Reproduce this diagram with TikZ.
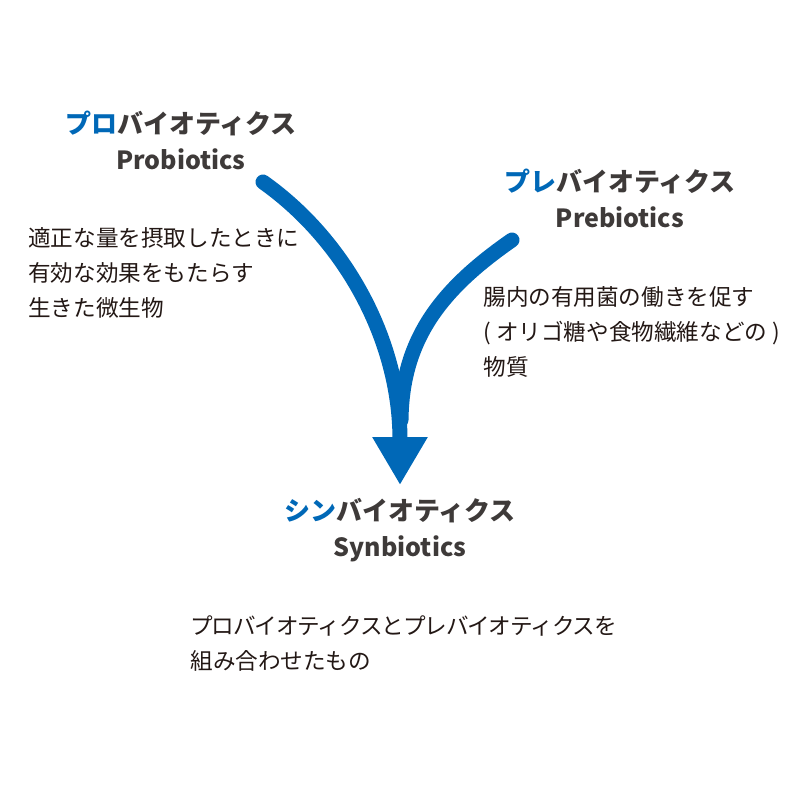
\documentclass[tikz,border=0pt]{standalone}
\usepackage{fontspec}
\setmainfont{Noto Sans CJK JP}
\usetikzlibrary{arrows.meta}
\definecolor{flowblue}{HTML}{0068B7}
\definecolor{headgray}{HTML}{3E3A39}
\definecolor{textgray}{HTML}{231815}
\begin{document}
\begin{tikzpicture}[
      x=0.5pt, y=-0.5pt,
      heading/.style={align=center, inner sep=0pt, text=headgray, font=\bfseries\fontsize{12.5}{18}\selectfont},
      note/.style={anchor=west, align=left, inner sep=0pt, text=textgray, font=\fontsize{11.3}{17.5}\selectfont},
      flow/.style={draw=flowblue, line width=7.5pt, line cap=round}
      ]
      \useasboundingbox (0,0) rectangle (800,800);
      % headings
      \node[heading] (pro) at (181,140) {{\fontsize{13}{18}\selectfont{\color{flowblue}プロ}バイオティクス}\\Probiotics};
      \node[heading] (pre) at (620,198) {{\fontsize{13}{18}\selectfont{\color{flowblue}プレ}バイオティクス}\\Prebiotics};
      \node[heading] (syn) at (400,530) {{\fontsize{13}{18}\selectfont{\color{flowblue}シン}バイオティクス}\\Synbiotics};
      % descriptions
      \node[note] (pro-note) at (28,273) {適正な量を摂取したときに\\有効な効果をもたらす\\生きた微生物};
      \node[note] (pre-note) at (483,332) {腸内の有用菌の働きを促す\\( オリゴ糖や食物繊維などの )\\物質};
      \node[note] (syn-note) at (190,643.5) {\addfontfeature{LetterSpace=-5}プロバイオティクスとプレバイオティクスを\\組み合わせたもの};
      % arrows
      \coordinate (pro-start) at (263,182);
      \coordinate (pre-start) at (512,240);
      \coordinate (join) at (401,420);
      \coordinate (tip) at (400,485);
      \draw[flow] (pre-start) .. controls (440,290) and (402,340) .. (join);
      \draw[flow, -{Triangle[width=26pt, length=24pt]}] (pro-start) .. controls (345,240) and (400,340) .. (tip);
\end{tikzpicture}
\end{document}
